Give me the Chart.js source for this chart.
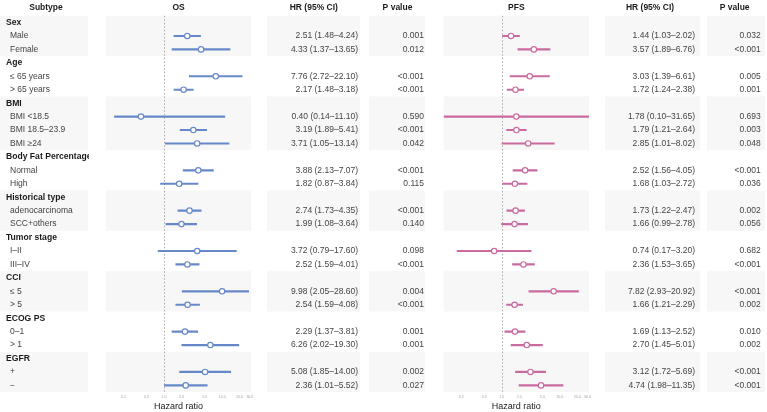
<!DOCTYPE html>
<html><head><meta charset="utf-8">
<script src="https://cdn.jsdelivr.net/npm/chart.js@4/dist/chart.umd.min.js"></script>
<style>
html,body{margin:0;padding:0;background:#fff;}
#wrap{position:relative;width:767px;height:412px;overflow:hidden;}
#c1{position:absolute;left:0;top:0;}
#c2{position:absolute;left:430px;top:0;}
</style></head><body>
<div id="wrap"><canvas id="c1" width="430" height="412"></canvas><canvas id="c2" width="337" height="412"></canvas></div>
<script>
// ---------------- DATA ----------------
const groups = ['Sex','Age','BMI','Body Fat Percentage','Historical type','Tumor stage','CCI','ECOG PS','EGFR'];
const subgroups = [
  ['Male','Female'],
  ['≤ 65 years','> 65 years'],
  ['BMI <18.5','BMI 18.5–23.9','BMI ≥24'],
  ['Normal','High'],
  ['adenocarcinoma','SCC+others'],
  ['I–II','III–IV'],
  ['≤ 5','> 5'],
  ['0–1','> 1'],
  ['+','−']
];
const osHR   = [2.51,4.33,7.76,2.17,0.40,3.19,3.71,3.88,1.82,2.74,1.99,3.72,2.52,9.98,2.54,2.29,6.26,5.08,2.36];
const osLow  = [1.48,1.37,2.72,1.48,0.14,1.89,1.05,2.13,0.87,1.73,1.08,0.79,1.59,2.05,1.59,1.37,2.02,1.85,1.01];
const osHigh = [4.24,13.65,22.10,3.18,11.10,5.41,13.14,7.07,3.84,4.35,3.64,17.60,4.01,28.60,4.08,3.81,19.30,14.00,5.52];
const osP    = ['0.001','0.012','<0.001','<0.001','0.590','<0.001','0.042','<0.001','0.115','<0.001','0.140','0.098','<0.001','0.004','<0.001','0.001','0.001','0.002','0.027'];
const pfsHR   = [1.44,3.57,3.03,1.72,1.78,1.79,2.85,2.52,1.68,1.73,1.66,0.74,2.36,7.82,1.66,1.69,2.70,3.12,4.74];
const pfsLow  = [1.03,1.89,1.39,1.24,0.10,1.21,1.01,1.56,1.03,1.22,0.99,0.17,1.53,2.93,1.21,1.13,1.45,1.72,1.98];
const pfsHigh = [2.02,6.76,6.61,2.38,31.65,2.64,8.02,4.05,2.72,2.47,2.78,3.20,3.65,20.92,2.29,2.52,5.01,5.69,11.35];
const pfsP    = ['0.032','<0.001','0.005','0.001','0.693','0.003','0.048','<0.001','0.036','0.002','0.056','0.682','<0.001','<0.001','0.002','0.010','0.002','<0.001','<0.001'];
const tickValues = [0.2,0.5,1,2,5,10,20,30];
const tickLabels = ['0.2','0.5','1.0','2.0','5.0','10.0','20.0','30.0'];
const headers = {subtype:'Subtype', os:'OS', pfs:'PFS', hr:'HR (95% CI)', p:'P value', axis:'Hazard ratio'};

// ---------------- BUILD ROWS ----------------
const rowLabels = [], rowIsGroup = [], rowGroup = [], rowItem = [];
let k = 0;
groups.forEach((g, gi) => {
  rowLabels.push(g); rowIsGroup.push(true); rowGroup.push(gi); rowItem.push(-1);
  subgroups[gi].forEach(s => { rowLabels.push(s); rowIsGroup.push(false); rowGroup.push(gi); rowItem.push(k++); });
});
function expand(arr, fn) { return rowItem.map(i => i < 0 ? null : fn(i)); }
const fmt = v => v.toFixed(2);

const FONT = '"Liberation Sans", Arial, Helvetica, sans-serif';
Chart.defaults.font.family = FONT;

const BAND = '#f7f7f7';
const HEADER_Y = 7.5;

function tablePlugin(cfg) {
  return {
    id: 'table',
    beforeDraw(chart) {
      const ctx = chart.ctx, y = chart.scales.y, a = chart.chartArea;
      const pitch = (a.bottom - a.top) / rowLabels.length;
      const cols = cfg.bands.concat([{x0: a.left, x1: a.right}]);
      ctx.save();
      ctx.fillStyle = BAND;
      groups.forEach((g, gi) => {
        if (gi % 2) return;
        const first = rowGroup.indexOf(gi), last = rowGroup.lastIndexOf(gi);
        const t = y.getPixelForValue(first) - pitch / 2, b = y.getPixelForValue(last) + pitch / 2;
        cols.forEach(c => ctx.fillRect(c.x0, t, c.x1 - c.x0, b - t));
      });
      ctx.restore();
    },
    beforeDatasetsDraw(chart) {
      const ctx = chart.ctx, x = chart.scales.x, a = chart.chartArea;
      const px = Math.round(x.getPixelForValue(1)) + 0.5;
      ctx.save();
      ctx.strokeStyle = '#a8a8a8'; ctx.lineWidth = 1; ctx.setLineDash([1.5, 2]);
      ctx.beginPath(); ctx.moveTo(px, a.top); ctx.lineTo(px, a.bottom + 2); ctx.stroke();
      ctx.restore();
    },
    afterDraw(chart) {
      const ctx = chart.ctx, y = chart.scales.y, a = chart.chartArea;
      ctx.save();
      ctx.textBaseline = 'middle';
      ctx.fillStyle = '#1a1a1a';
      ctx.font = 'bold 8.5px ' + FONT;
      ctx.textAlign = 'center';
      ctx.fillText(cfg.plotTitle, (a.left + a.right) / 2, HEADER_Y);
      cfg.text.forEach(c => ctx.fillText(c.header, c.hx, HEADER_Y));
      if (cfg.labels) {
        const L = cfg.labels;
        ctx.fillText(headers.subtype, L.hx, HEADER_Y);
        ctx.save();
        ctx.beginPath(); ctx.rect(0, 0, L.clip, chart.height); ctx.clip();
        ctx.textAlign = 'left';
        rowLabels.forEach((lab, r) => {
          const py = y.getPixelForValue(r);
          if (rowIsGroup[r]) { ctx.font = 'bold 8.6px ' + FONT; ctx.fillStyle = '#1a1a1a'; ctx.fillText(lab, L.gx, py); }
          else { ctx.font = '8.5px ' + FONT; ctx.fillStyle = '#444'; ctx.fillText(lab, L.ix, py); }
        });
        ctx.restore();
      }
      ctx.font = '8.5px ' + FONT; ctx.fillStyle = '#444'; ctx.textAlign = 'right';
      cfg.text.forEach(c => {
        c.values.forEach((v, r) => { if (v !== null) ctx.fillText(v, c.rx, y.getPixelForValue(r)); });
      });
      ctx.restore();
    }
  };
}

function makeForest(id, color, hr, lo, hi, pad, cfg) {
  return new Chart(document.getElementById(id), {
    type: 'bar',
    data: {
      labels: rowLabels,
      datasets: [
        { type: 'line', indexAxis: 'y', data: expand(hr, i => hr[i]), showLine: false,
          pointRadius: 2.7, pointHoverRadius: 2.7, pointBorderWidth: 1.2, pointBorderColor: color,
          pointBackgroundColor: '#fff', order: 0 },
        { type: 'bar', indexAxis: 'y', data: expand(lo, i => [lo[i], hi[i]]), backgroundColor: color,
          borderWidth: 0, barThickness: 1.5, order: 1 }
      ]
    },
    options: {
      responsive: false, animation: false, devicePixelRatio: 1, indexAxis: 'y',
      layout: { padding: { left: pad.left, right: pad.right, top: 15.8, bottom: 0 } },
      plugins: { legend: { display: false }, tooltip: { enabled: false }, title: { display: false } },
      events: [],
      scales: {
        y: { type: 'category', display: false, offset: true },
        x: {
          type: 'logarithmic', min: 0.1, max: 31.62,
          grid: { display: false, drawTicks: false }, border: { display: false },
          afterBuildTicks: s => { s.ticks = tickValues.map(v => ({ value: v })); },
          afterFit: s => { s.height = 19.9; },
          ticks: { font: { size: 3.6 }, color: '#a0a0a0', padding: 3, autoSkip: false, maxRotation: 0,
                   callback: v => tickLabels[tickValues.indexOf(v)] },
          title: { display: true, text: headers.axis, font: { size: 9 }, color: '#222', padding: { top: 0, bottom: 0.5 } }
        }
      }
    },
    plugins: [tablePlugin(cfg)]
  });
}

const osHRText = expand(osHR, i => `${fmt(osHR[i])} (${fmt(osLow[i])}–${fmt(osHigh[i])})`);
const pfsHRText = expand(pfsHR, i => `${fmt(pfsHR[i])} (${fmt(pfsLow[i])}–${fmt(pfsHigh[i])})`);

makeForest('c1', '#6688c8', osHR, osLow, osHigh, { left: 106, right: 178.8 }, {
  plotTitle: headers.os,
  labels: { hx: 46, gx: 6, ix: 10, clip: 89 },
  bands: [{ x0: 0, x1: 88 }, { x0: 267, x1: 360 }, { x0: 369, x1: 425 }],
  text: [
    { header: headers.hr, hx: 313.8, rx: 358, values: osHRText },
    { header: headers.p, hx: 397.5, rx: 424, values: expand(osP, i => osP[i]) }
  ]
});
makeForest('c2', '#c96ba0', pfsHR, pfsLow, pfsHigh, { left: 13.7, right: 178.1 }, {
  plotTitle: headers.pfs,
  labels: null,
  bands: [{ x0: 175, x1: 270 }, { x0: 277, x1: 335 }],
  text: [
    { header: headers.hr, hx: 220, rx: 265, values: pfsHRText },
    { header: headers.p, hx: 304.7, rx: 330.7, values: expand(pfsP, i => pfsP[i]) }
  ]
});
</script>
</body></html>
